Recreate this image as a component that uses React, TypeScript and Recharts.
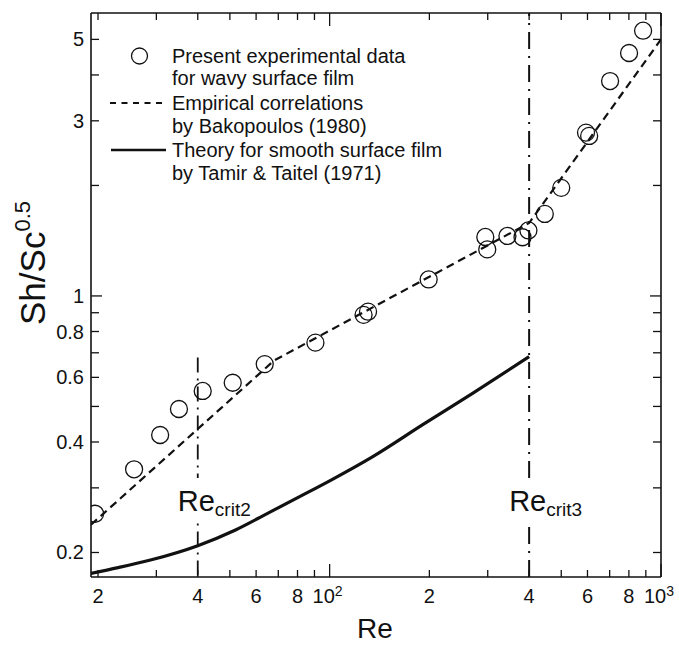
import React from 'react';
import { ComposedChart, Line, Scatter, XAxis, YAxis, ReferenceLine, Customized } from 'recharts';

// Present experimental data (Re, Sh/Sc^0.5)
const reExp = [19.6, 25.7, 30.8, 35.1, 41.4, 51.0, 63.7, 90.6, 126.6, 130.6, 199, 295, 299, 344, 382, 398, 446, 500, 594, 607, 702, 801, 883];
const shExp = [0.255, 0.337, 0.418, 0.492, 0.551, 0.58, 0.652, 0.746, 0.888, 0.906, 1.109, 1.448, 1.339, 1.457, 1.445, 1.508, 1.673, 1.97, 2.786, 2.729, 3.85, 4.59, 5.28];

// Empirical correlations by Bakopoulos (1980)
const reBak = [19.05, 68, 400, 1000];
const shBak = [0.238, 0.667, 1.58, 5.0];

// Theory for smooth surface film by Tamir & Taitel (1971)
const reTheo = [19.05, 23, 29, 40, 52, 65, 82, 101, 135, 191, 270, 400];
const shTheo = [0.1755, 0.1819, 0.1911, 0.2088, 0.2304, 0.2557, 0.2852, 0.315, 0.365, 0.446, 0.543, 0.683];

// Critical Reynolds numbers
const reCrit2 = 40;
const reCrit2Top = 0.68;
const reCrit3 = 400;

// Axes
const xDomain = [19.05, 1000];
const yDomain = [0.1715, 5.9];
const xTicks = [20, 30, 40, 50, 60, 70, 80, 90, 100, 200, 300, 400, 500, 600, 700, 800, 900, 1000];
const xTickLabels = ['2', '', '4', '', '6', '', '8', '', '10^2', '2', '', '4', '', '6', '', '8', '', '10^3'];
const yTicks = [0.2, 0.3, 0.4, 0.5, 0.6, 0.7, 0.8, 0.9, 1, 2, 3, 4, 5];
const yTickLabels = ['0.2', '', '0.4', '', '0.6', '', '0.8', '', '1', '', '3', '', '5'];

const expData = reExp.map((x, i) => ({ x, y: shExp[i] }));
const bakData = reBak.map((x, i) => ({ x, y: shBak[i] }));
const theoData = reTheo.map((x, i) => ({ x, y: shTheo[i] }));

const FONT = '"Liberation Sans", Arial, Helvetica, sans-serif';
const INK = '#111';

const isDecade = (v: number) => Math.abs(Math.log10(v) - Math.round(Math.log10(v))) < 1e-9;

const BottomTick = (props: any) => {
  const { x, y, payload } = props;
  const v = payload.value;
  const i = xTicks.indexOf(v);
  const lab = i >= 0 ? xTickLabels[i] : '';
  const len = isDecade(v) ? 13 : 7;
  let label: any = null;
  if (lab.startsWith('10^')) {
    label = (
      <text x={x - 17} y={y + 26} fontSize={20} fontFamily={FONT} fill={INK} textAnchor="start">
        10<tspan fontSize={14} dy={-7}>{lab.slice(3)}</tspan>
      </text>
    );
  } else if (lab) {
    label = (
      <text x={x} y={y + 26} fontSize={20} fontFamily={FONT} fill={INK} textAnchor="middle">
        {lab}
      </text>
    );
  }
  return (
    <g>
      <line x1={x} x2={x} y1={y} y2={y - len} stroke={INK} strokeWidth={1.3} />
      {label}
    </g>
  );
};

const TopTick = (props: any) => {
  const { x, y, payload } = props;
  const len = isDecade(payload.value) ? 13 : 7;
  return <line x1={x} x2={x} y1={y} y2={y + len} stroke={INK} strokeWidth={1.3} />;
};

const LeftTick = (props: any) => {
  const { x, y, payload } = props;
  const v = payload.value;
  const i = yTicks.indexOf(v);
  const lab = i >= 0 ? yTickLabels[i] : '';
  const len = isDecade(v) ? 11 : 8;
  return (
    <g>
      <line x1={x} x2={x + len} y1={y} y2={y} stroke={INK} strokeWidth={1.3} />
      {lab ? (
        <text x={x - 7} y={y + 7} fontSize={20} fontFamily={FONT} fill={INK} textAnchor="end">
          {lab}
        </text>
      ) : null}
    </g>
  );
};

const RightTick = (props: any) => {
  const { x, y, payload } = props;
  const len = isDecade(payload.value) ? 11 : 8;
  return <line x1={x} x2={x - len} y1={y} y2={y} stroke={INK} strokeWidth={1.3} />;
};

const CritLabel = (props: any) => {
  const { viewBox, sub } = props;
  if (!viewBox) return null;
  const { x, y, height } = viewBox;
  const bottom = y + height;
  return (
    <g>
      <rect x={x - 3} y={bottom - 99} width={6} height={45} fill="#fff" />
      <text x={x - 20} y={bottom - 66} fontSize={29} fontFamily={FONT} fill={INK}>
        Re<tspan fontSize={19} dy={5}>{sub}</tspan>
      </text>
    </g>
  );
};

const Decorations = () => (
  <g fontFamily={FONT} fill={INK}>
    <text transform="rotate(-90)" x={-263} y={45} textAnchor="middle" fontSize={35} fill={INK}>
      Sh/Sc<tspan fontSize={22} dy={-15}>0.5</tspan>
    </text>
    <text x={375} y={638} textAnchor="middle" fontSize={28} fill={INK}>Re</text>
    <circle cx={139.5} cy={56} r={8} fill="none" stroke={INK} strokeWidth={1.3} />
    <text x={172} y={63} fontSize={20} fill={INK}>Present experimental data</text>
    <text x={172} y={85} fontSize={20} fill={INK}>for wavy surface film</text>
    <line x1={110} x2={167} y1={103} y2={103} stroke={INK} strokeWidth={1.8} strokeDasharray="6 5.5" />
    <text x={172} y={110} fontSize={20} fill={INK}>Empirical correlations</text>
    <text x={172} y={133} fontSize={20} fill={INK}>by Bakopoulos (1980)</text>
    <line x1={111} x2={166} y1={150} y2={150} stroke={INK} strokeWidth={2.6} />
    <text x={172} y={157} fontSize={20} fill={INK}>Theory for smooth surface film</text>
    <text x={172} y={180} fontSize={20} fill={INK}>by Tamir &amp; Taitel (1971)</text>
  </g>
);

const OpenCircle = (props: any) => {
  const { cx, cy } = props;
  if (cx == null || cy == null) return null;
  return <circle cx={cx} cy={cy} r={8.5} fill="none" stroke={INK} strokeWidth={1.3} />;
};

export default function App() {
  return (
    <div style={{ position: 'absolute', left: 0, top: 0, width: 679, height: 645, background: '#fff' }}>
      <ComposedChart width={679} height={645} margin={{ top: 0, right: 0, bottom: 0, left: 0 }}>
        <XAxis
          xAxisId="b"
          dataKey="x"
          type="number"
          scale="log"
          domain={xDomain}
          allowDataOverflow
          ticks={xTicks}
          interval={0}
          orientation="bottom"
          height={68}
          tickSize={0}
          tickMargin={0}
          tickLine={false}
          axisLine={{ stroke: INK, strokeWidth: 1.6 }}
          tick={(p: any) => <BottomTick {...p} />}
        />
        <XAxis
          xAxisId="t"
          dataKey="x"
          type="number"
          scale="log"
          domain={xDomain}
          allowDataOverflow
          ticks={xTicks}
          interval={0}
          orientation="top"
          height={13}
          tickSize={0}
          tickMargin={0}
          tickLine={false}
          axisLine={{ stroke: INK, strokeWidth: 1.6 }}
          tick={(p: any) => <TopTick {...p} />}
        />
        <YAxis
          yAxisId="l"
          type="number"
          scale="log"
          domain={yDomain}
          allowDataOverflow
          ticks={yTicks}
          interval={0}
          orientation="left"
          width={91}
          tickSize={0}
          tickMargin={0}
          tickLine={false}
          axisLine={{ stroke: INK, strokeWidth: 1.6 }}
          tick={(p: any) => <LeftTick {...p} />}
        />
        <YAxis
          yAxisId="r"
          type="number"
          scale="log"
          domain={yDomain}
          allowDataOverflow
          ticks={yTicks}
          interval={0}
          orientation="right"
          width={18}
          tickSize={0}
          tickMargin={0}
          tickLine={false}
          axisLine={{ stroke: INK, strokeWidth: 1.6 }}
          tick={(p: any) => <RightTick {...p} />}
        />
        <ReferenceLine
          xAxisId="b"
          yAxisId="l"
          segment={[{ x: reCrit2, y: reCrit2Top }, { x: reCrit2, y: yDomain[0] }]}
          stroke={INK}
          strokeWidth={1.8}
          strokeDasharray="15 6 2 6"
          label={<CritLabel sub="crit2" />}
        />
        <ReferenceLine
          xAxisId="b"
          yAxisId="l"
          x={reCrit3}
          stroke={INK}
          strokeWidth={2}
          strokeDasharray="17 7 2 7"
          label={<CritLabel sub="crit3" />}
        />
        <Line
          xAxisId="b"
          yAxisId="l"
          data={theoData}
          dataKey="y"
          type="monotone"
          stroke={INK}
          strokeWidth={3.2}
          dot={false}
          activeDot={false}
          isAnimationActive={false}
        />
        <Line
          xAxisId="b"
          yAxisId="l"
          data={bakData}
          dataKey="y"
          type="linear"
          stroke={INK}
          strokeWidth={2.2}
          strokeDasharray="8 5"
          dot={false}
          activeDot={false}
          isAnimationActive={false}
        />
        <Scatter
          xAxisId="b"
          yAxisId="l"
          data={expData}
          dataKey="y"
          shape={(p: any) => <OpenCircle {...p} />}
          isAnimationActive={false}
        />
        <Customized component={Decorations} />
      </ComposedChart>
    </div>
  );
}
